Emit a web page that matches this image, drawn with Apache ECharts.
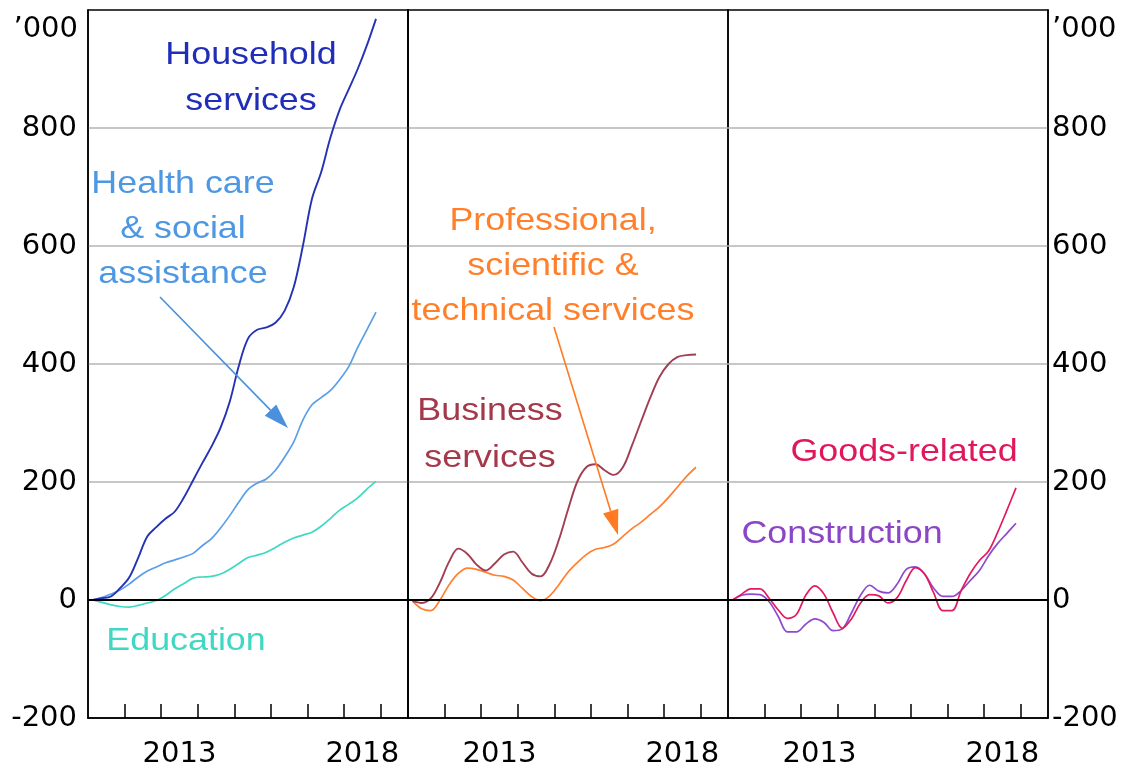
<!DOCTYPE html>
<html>
<head>
<meta charset="utf-8">
<script src="https://cdn.jsdelivr.net/npm/echarts@6.0.0/dist/echarts.min.js"></script>
<style>
  html, body { margin: 0; padding: 0; background: #fff; }
  #chart { width: 1126px; height: 771px; }
</style>
</head>
<body>
<div id="chart"></div>
<script>
// quarterly observations, 2011 Q1 .. 2018 Q4 (plotted mid-quarter)
const firstYear = 2011;
const lastYear = 2018;
const quarters = [];
for (let y = firstYear; y <= lastYear; y++) {
    for (let q = 0; q < 4; q++) quarters.push(y + 0.125 + q * 0.25);
}

// cumulative change in employment, '000
const household = [0, 3, 6, 20, 38, 72, 108, 124, 138, 150, 174, 203, 232, 260, 292, 336,
    397, 443, 458, 462, 470, 490, 530, 600, 680, 725, 783, 830, 865, 900, 940, 985];
const healthCare = [0, 4, 10, 17, 27, 39, 49, 56, 63, 68, 73, 79, 92, 104, 122, 143,
    166, 187, 198, 205, 220, 242, 268, 305, 331, 343, 355, 373, 395, 428, 458, 488];
const education = [0, -4, -8, -11, -12, -9, -5, -1, 8, 19, 28, 37, 39, 40, 44, 52,
    62, 72, 76, 81, 89, 98, 105, 110, 115, 125, 138, 152, 162, 173, 188, 201];
const business = [-2, -5, 3, 30, 65, 87, 78, 60, 50, 62, 77, 82, 64, 45, 40, 61,
    102, 153, 200, 225, 230, 220, 212, 225, 262, 303, 343, 378, 400, 412, 415, 416];
const professional = [-2, -15, -18, 0, 26, 45, 54, 52, 47, 42, 40, 34, 20, 6, -1, 7,
    26, 47, 63, 77, 86, 89, 95, 108, 121, 132, 145, 158, 174, 192, 210, 225];
const goods = [0, 10, 19, 19, 3, -17, -31, -24, 8, 24, 10, -22, -48, -32, -5, 9,
    7, -5, 4, 33, 55, 44, 12, -18, -18, 16, 45, 67, 83, 115, 152, 190];
const construction = [0, 8, 10, 9, -3, -28, -54, -54, -41, -32, -38, -52, -49, -22, 8, 25,
    15, 12, 27, 52, 56, 44, 20, 6, 6, 16, 33, 50, 75, 96, 113, 130];

const tickYears = [2012, 2013, 2014, 2015, 2016, 2017, 2018, 2019];
const labelYears = [2013, 2018];

const FONT = '"Liberation Sans", Arial, sans-serif';
const AXIS_FONT = '"DejaVu Sans", sans-serif';
const panelLeft = [88, 408, 728];
const panelWidth = 320;

const chart = echarts.init(document.getElementById('chart'), null, {renderer: 'canvas'});

const pair = arr => arr.map((v, i) => [quarters[i], v]);

const grids = panelLeft.map(left => ({
    left: left, width: panelWidth, top: 10, height: 708,
    show: true, borderColor: '#000', borderWidth: 1.5, backgroundColor: 'transparent'
}));

const xAxes = grids.map((g, i) => ({
    type: 'value', gridIndex: i, min: 2011, max: 2019.75,
    axisLine: {show: true, onZero: false, lineStyle: {color: '#000', width: 1.5}},
    axisTick: {show: true, inside: true, length: 14, customValues: tickYears,
        lineStyle: {color: '#000', width: 1.5}},
    axisLabel: {show: true, customValues: labelYears.map(y => y + 0.5),
        formatter: v => String(Math.floor(v)), color: '#000',
        fontFamily: AXIS_FONT, fontSize: 29, margin: 22},
    splitLine: {show: false}
}));

const yAxes = grids.map((g, i) => ({
    type: 'value', gridIndex: i, min: -200, max: 1000, interval: 200,
    position: i === 2 ? 'right' : 'left',
    axisLine: {show: true, lineStyle: {color: '#000', width: 1.5}},
    axisTick: {show: false},
    axisLabel: {show: i !== 1, color: '#000', fontFamily: AXIS_FONT, fontSize: 29,
        margin: i === 0 ? 11 : 4,
        formatter: v => (v === 1000 ? '' : String(v))},
    splitLine: {show: true, showMinLine: false, showMaxLine: false,
        lineStyle: {color: '#b4b4b4', width: 1.5}}
}));

function line(name, data, color, idx, width) {
    return {
        name: name, type: 'line', xAxisIndex: idx, yAxisIndex: idx,
        data: pair(data), showSymbol: false, smooth: 0.35,
        lineStyle: {color: color, width: width || 1.7}, z: 3
    };
}

const zeroLine = idx => ({
    type: 'line', xAxisIndex: idx, yAxisIndex: idx, data: [], silent: true,
    markLine: {silent: true, symbol: 'none', label: {show: false},
        lineStyle: {color: '#000', width: 1.8, type: 'solid'},
        data: [{yAxis: 0}]}
});

// arrow helper: shaft + filled head
function arrow(x1, y1, x2, y2, color) {
    const ang = Math.atan2(y2 - y1, x2 - x1);
    const len = 25, half = 8;
    const bx = x2 - len * Math.cos(ang), by = y2 - len * Math.sin(ang);
    const px = -Math.sin(ang) * half, py = Math.cos(ang) * half;
    return [
        {type: 'line', shape: {x1: x1, y1: y1, x2: bx, y2: by},
            style: {stroke: color, lineWidth: 1.6}, z: 10},
        {type: 'polygon', shape: {points: [[x2, y2], [bx + px, by + py], [bx - px, by - py]]},
            style: {fill: color}, z: 10}
    ];
}

function label(text, x, y, color, lh) {
    return {
        type: 'text', x: x, y: y, scaleX: 1.12, z: 10,
        style: {text: text, fill: color, font: '32px ' + FONT,
            textAlign: 'center', textVerticalAlign: 'middle', lineHeight: lh || 46}
    };
}

const option = {
    animation: false,
    backgroundColor: '#fff',
    grid: grids,
    xAxis: xAxes,
    yAxis: yAxes,
    series: [
        zeroLine(0), zeroLine(1), zeroLine(2),
        line('Education', education, '#3fd8c2', 0),
        line('Health care & social assistance', healthCare, '#5b9fe6', 0),
        line('Household services', household, '#2432b4', 0, 1.9),
        line('Professional, scientific & technical services', professional, '#ff8030', 1),
        line('Business services', business, '#a23e52', 1, 1.9),
        line('Construction', construction, '#8c4bcc', 2),
        line('Goods-related', goods, '#e31a62', 2)
    ],
    graphic: [
        {type: 'text', x: 78, y: 29, z: 10, style: {text: '\u2019000', fill: '#000',
            font: '29px ' + AXIS_FONT, textAlign: 'right', textVerticalAlign: 'middle'}},
        {type: 'text', x: 1052, y: 29, z: 10, style: {text: '\u2019000', fill: '#000',
            font: '29px ' + AXIS_FONT, textAlign: 'left', textVerticalAlign: 'middle'}},
        label('Household\nservices', 251, 78, '#1f2db8'),
        label('Health care\n& social\nassistance', 183, 229, '#4d97e3', 45),
        label('Education', 186, 641, '#3fd8c2'),
        label('Professional,\nscientific &\ntechnical services', 553, 266, '#ff7f2a', 45),
        label('Business\nservices', 490, 435, '#a3394a', 47),
        label('Goods-related', 904, 452, '#e0175c'),
        label('Construction', 842, 534, '#8a45c8'),
        ...arrow(160, 297, 288, 428, '#4a90dc'),
        ...arrow(554, 327, 618, 535, '#ff7a22')
    ]
};

chart.setOption(option);
window.addEventListener('resize', () => chart.resize());
</script>
</body>
</html>
